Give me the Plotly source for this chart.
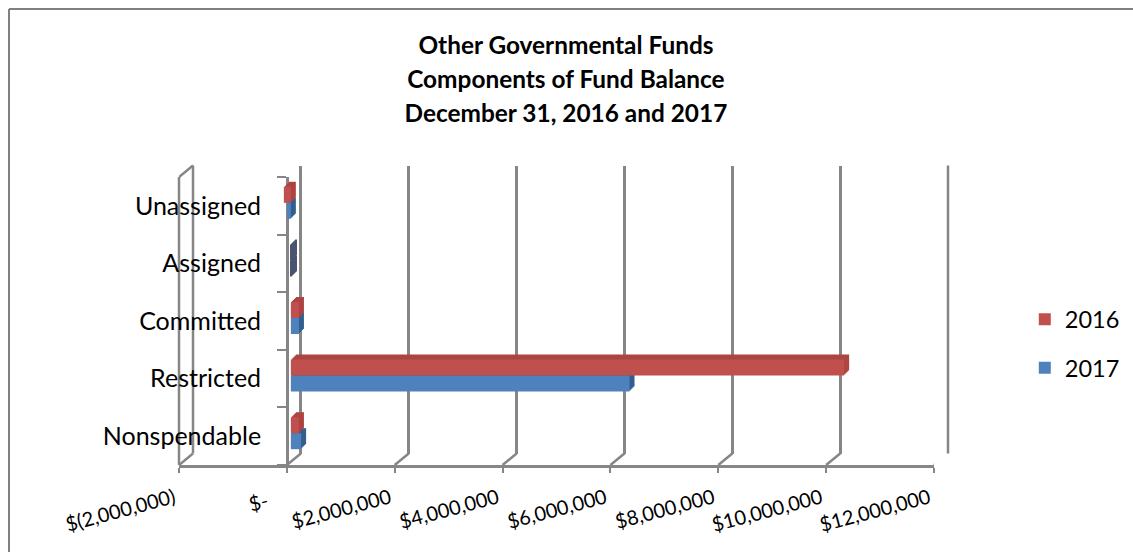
import plotly.graph_objects as go

CATEGORIES = ["Nonspendable", "Restricted", "Committed", "Assigned", "Unassigned"]
VALUES_2017 = [190000, 6280000, 150000, 8000, -70000]
VALUES_2016 = [150000, 10260000, 150000, 4000, -130000]
TICK_VALUES = [-2000000, 0, 2000000, 4000000, 6000000, 8000000, 10000000, 12000000]
TICK_LABELS = ["$(2,000,000)", "$-", "$2,000,000", "$4,000,000", "$6,000,000",
               "$8,000,000", "$10,000,000", "$12,000,000"]
TITLE_LINES = ["Other Governmental Funds", "Components of Fund Balance",
               "December 31, 2016 and 2017"]

W, H = 1133, 552
LEFT, RIGHT, TOP, BOTTOM = 179, 934, 177, 465
XR = [-2000000, 12000000]
YR = [-0.5, 4.5]
GRID = "#868686"
FONT = "Lato"
RED, BLUE = "#C0504D", "#4F81BD"
RED_D, BLUE_D = "#AE4542", "#33608F"
NEAR_ZERO = "#4A5470"
PAD = "\u00a0"


def xdom(dx):
    return [(LEFT + dx) / W, (RIGHT + dx) / W]


def ydom(dy):
    return [1 - (BOTTOM - dy) / H, 1 - (TOP - dy) / H]


tick_text = [t + PAD * (4 if t == "$-" else 1) for t in TICK_LABELS]

layout = dict(
    width=W, height=H,
    margin=dict(l=0, r=0, t=0, b=0, pad=0, autoexpand=False),
    paper_bgcolor="white", plot_bgcolor="rgba(0,0,0,0)",
    barmode="group", bargap=0.444, bargroupgap=0,
    font=dict(family=FONT, color="#000000"),
    title=dict(
        text="<br>".join(f'<span style="font-size:24.4px">{t}</span>' for t in TITLE_LINES),
        font=dict(family=FONT, size=26, color="#000000", weight="bold"),
        x=0.4995, xanchor="center", y=0.9015, yanchor="top",
    ),
    legend=dict(x=0.9045, xanchor="left", y=0.377, yanchor="middle",
                font=dict(size=23.5, family=FONT, color="#000000"), bgcolor="rgba(0,0,0,0)",
                traceorder="grouped", tracegroupgap=15, itemclick=False),
)

layout["xaxis"] = dict(domain=xdom(14), range=XR, anchor="y", tickvals=TICK_VALUES,
                       showgrid=True, gridcolor=GRID, gridwidth=2.5, showline=False,
                       showticklabels=False, ticks="", zeroline=False)
layout["yaxis"] = dict(domain=ydom(11.5), range=YR, anchor="x", type="category",
                       categoryorder="array", categoryarray=CATEGORIES,
                       showgrid=False, showticklabels=False, ticks="", zeroline=False,
                       showline=False)

zero_pos = (LEFT + (0 - XR[0]) / (XR[1] - XR[0]) * (RIGHT - LEFT)) / W
layout["xaxis2"] = dict(domain=xdom(0), range=XR, anchor="y2", tickvals=TICK_VALUES,
                        ticktext=tick_text, tickangle=-15, ticks="outside", ticklen=5,
                        tickcolor=GRID, tickwidth=1.5, showline=True, linecolor=GRID,
                        linewidth=2.5, showgrid=False, zeroline=False, ticklabelstandoff=5,
                        tickfont=dict(size=20, family=FONT, color="#000000"))
layout["yaxis2"] = dict(domain=ydom(0), range=YR, anchor="free", position=zero_pos,
                        type="category", categoryorder="array", categoryarray=CATEGORIES,
                        tickson="boundaries", ticks="outside", ticklen=9, tickcolor=GRID,
                        tickwidth=1.5, showline=True, linecolor=GRID, linewidth=2.5,
                        showgrid=False, zeroline=False, ticklabelstandoff=20,
                        tickfont=dict(size=25, family=FONT, color="#000000"))

fig_traces = [
    go.Scatter(x=[None], y=[None], xaxis="x", yaxis="y", showlegend=False, hoverinfo="skip"),
    go.Scatter(x=[None], y=[None], xaxis="x2", yaxis="y2", showlegend=False, hoverinfo="skip"),
]

DEPTHS = [5, 4, 3, 2, 1, 0]
for i, d in enumerate(DEPTHS):
    n = i + 3
    layout[f"xaxis{n}"] = dict(domain=xdom(4 + d), range=XR, anchor=f"y{n}", visible=False)
    layout[f"yaxis{n}"] = dict(domain=ydom(3 + d), range=YR, anchor=f"x{n}", visible=False,
                               type="category", categoryorder="array",
                               categoryarray=CATEGORIES)
    front = d == 0
    for name, vals, col, dark, rank in (("2017", VALUES_2017, BLUE, BLUE_D, 2),
                                        ("2016", VALUES_2016, RED, RED_D, 1)):
        fig_traces.append(go.Bar(
            name=name, y=CATEGORIES, x=vals, orientation="h",
            xaxis=f"x{n}", yaxis=f"y{n}",
            marker=dict(color=col if front else dark, line=dict(width=0)),
            legendgroup=name, legendrank=rank, showlegend=front,
        ))

fig = go.Figure(fig_traces)
fig.update_layout(**layout)

# the near-zero Assigned bars show only their dark end faces
for tr in fig.data:
    if isinstance(tr, go.Bar):
        tr.marker.color = [NEAR_ZERO if c == "Assigned" else tr.marker.color for c in CATEGORIES]

line = dict(color=GRID, width=2.5)
for v in TICK_VALUES:
    fig.add_shape(type="line", xref="x2", yref="paper", xsizemode="pixel", ysizemode="pixel",
                  xanchor=v, x0=0, x1=14, yanchor=1 - BOTTOM / H, y0=0, y1=11.5,
                  line=line, layer="below")
fig.add_shape(type="line", xref="x2", yref="paper", xsizemode="pixel", ysizemode="pixel",
              xanchor=XR[0], x0=0, x1=14, yanchor=1 - TOP / H, y0=0, y1=11.5,
              line=line, layer="below")
# wall edges at the range ends, in paper space so they are not clipped by the subplot
for edge_x, dy in ((LEFT, 0), (LEFT + 14, 11.5), (RIGHT + 14, 11.5)):
    dom = ydom(dy)
    fig.add_shape(type="line", xref="paper", yref="paper", x0=edge_x / W, x1=edge_x / W,
                  y0=dom[0], y1=dom[1], line=line, layer="below")
# chart frame: top and left edges only are inside the picture
fig.add_shape(type="line", xref="paper", yref="paper", x0=9 / W, x1=1, y0=1 - 9 / H, y1=1 - 9 / H,
              line=dict(color="#808080", width=2), layer="below")
fig.add_shape(type="line", xref="paper", yref="paper", x0=9 / W, x1=9 / W, y0=0, y1=1 - 9 / H,
              line=dict(color="#808080", width=2), layer="below")

fig.write_html("out.html", config={"displayModeBar": False},
               post_script="document.body.style.margin='0';")
